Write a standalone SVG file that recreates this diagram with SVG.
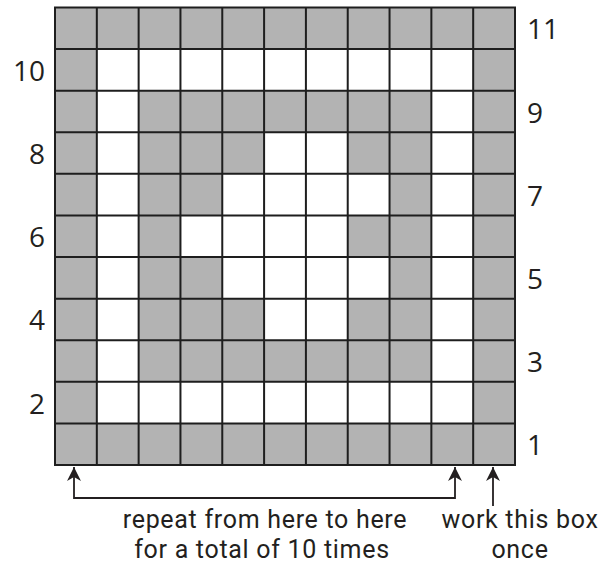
<svg xmlns="http://www.w3.org/2000/svg" width="600" height="564" viewBox="0 0 600 564">
<defs>
<style>
.lbl{font-family:"Open Sans","Liberation Sans",sans-serif;font-size:28px;fill:#231f20}
.txt{font-family:Roboto,"Open Sans","Liberation Sans",sans-serif;font-size:25px;letter-spacing:0.7px;fill:#231f20;text-anchor:middle}
.grid{stroke:#1e1e1e;stroke-width:2;fill:none}
.conn{stroke:#231f20;stroke-width:1.8;fill:none}
</style>
<marker id="ah" viewBox="0 0 14 14" refX="14" refY="7" markerUnits="userSpaceOnUse" markerWidth="14" markerHeight="14" orient="auto-start-reverse">
<path d="M0,0 L14,7 L0,14 L4,7 Z" fill="#231f20"/>
</marker>
</defs>
<rect width="600" height="564" fill="#fff"/>
<g id="chart">
<rect x="55" y="7.5" width="460" height="457.5" fill="#b3b3b3"/>
<g fill="#fff">
<rect x="96.82" y="49.09" width="376.36" height="41.59"/>
<rect x="96.82" y="381.82" width="376.36" height="41.59"/>
<rect x="96.82" y="49.09" width="41.82" height="374.32"/>
<rect x="431.36" y="49.09" width="41.82" height="374.32"/>
<rect x="264.09" y="132.27" width="83.64" height="41.59"/>
<rect x="222.27" y="173.86" width="167.28" height="41.59"/>
<rect x="180.45" y="215.45" width="167.28" height="41.6"/>
<rect x="222.27" y="257.05" width="167.28" height="41.59"/>
<rect x="264.09" y="298.64" width="83.64" height="41.59"/>
</g>
<path class="grid" d="M96.82,7.5V465M138.64,7.5V465M180.45,7.5V465M222.27,7.5V465M264.09,7.5V465M305.91,7.5V465M347.73,7.5V465M389.55,7.5V465M431.36,7.5V465M473.18,7.5V465
M55,49.09H515M55,90.68H515M55,132.27H515M55,173.86H515M55,215.45H515M55,257.05H515M55,298.64H515M55,340.23H515M55,381.82H515M55,423.41H515"/>
<rect class="grid" x="55" y="7.5" width="460" height="457.5"/>
</g>
<g id="row-labels-right" class="lbl">
<text x="527" y="39">11</text>
<text x="527" y="122.5">9</text>
<text x="527" y="205.7">7</text>
<text x="527" y="288.8">5</text>
<text x="527" y="372">3</text>
<text x="527" y="455.2">1</text>
</g>
<g id="row-labels-left" class="lbl" text-anchor="end">
<text x="45" y="81">10</text>
<text x="45" y="164.1">8</text>
<text x="45" y="247.3">6</text>
<text x="45" y="330.4">4</text>
<text x="45" y="413.6">2</text>
</g>
<g id="connectors">
<path class="conn" d="M74,467 V498 H455 V467" marker-start="url(#ah)" marker-end="url(#ah)"/>
<path class="conn" d="M493,506 V467" marker-end="url(#ah)"/>
</g>
<g id="note-repeat" class="txt">
<text x="265" y="528">repeat from here to here</text>
<text x="262" y="557.5">for a total of 10 times</text>
</g>
<g id="note-once" class="txt">
<text x="520" y="528">work this box</text>
<text x="520" y="557.5">once</text>
</g>
</svg>
